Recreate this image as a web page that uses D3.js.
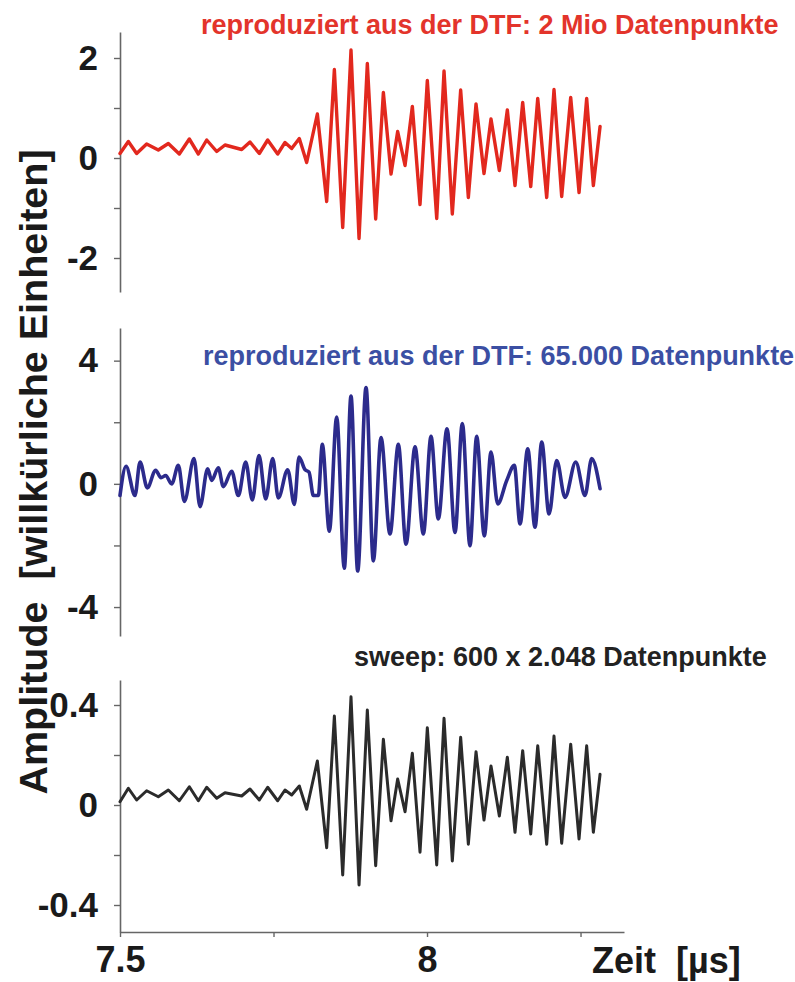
<!DOCTYPE html>
<html><head><meta charset="utf-8">
<script src="https://cdn.jsdelivr.net/npm/d3@7"></script>
<style>
html,body{margin:0;padding:0;background:#fff;}
text{font-family:"Liberation Sans",Arial,sans-serif;font-weight:bold;}
</style></head>
<body>
<svg id="chart" width="795" height="982"></svg>
<script>
// ---------- data (time in µs, amplitude in arbitrary units) ----------
const redTime = [7.5000,7.5136,7.5271,7.5434,7.5624,7.5787,7.5966,7.6129,7.6276,7.6412,7.6575,7.6710,7.6982,7.7117,7.7269,7.7405,7.7568,7.7687,7.7796,7.7920,7.8040,7.8214,7.8366,7.8491,7.8627,7.8762,7.8893,7.9028,7.9164,7.9289,7.9414,7.9522,7.9642,7.9761,7.9886,8.0005,8.0158,8.0277,8.0412,8.0548,8.0673,8.0798,8.0928,8.1042,8.1178,8.1308,8.1433,8.1558,8.1689,8.1803,8.1949,8.2068,8.2193,8.2340,8.2476,8.2600,8.2709,8.2818];
const redValue = [0.09,0.33,0.09,0.28,0.16,0.29,0.08,0.38,0.08,0.36,0.13,0.26,0.17,0.32,0.09,0.36,0.08,0.31,0.19,0.39,-0.09,0.88,-0.87,1.77,-1.39,2.16,-1.61,1.89,-1.22,1.31,-0.32,0.53,-0.15,1.03,-0.93,1.55,-1.21,1.74,-1.12,1.36,-0.79,1.08,-0.31,0.78,-0.25,0.96,-0.55,1.11,-0.57,1.19,-0.79,1.37,-0.77,1.21,-0.69,1.19,-0.55,0.63];

const blueTime = [7.5000,7.5098,7.5244,7.5326,7.5445,7.5581,7.5668,7.5744,7.5842,7.5950,7.6048,7.6205,7.6303,7.6428,7.6493,7.6601,7.6683,7.6819,7.6927,7.7047,7.7155,7.7264,7.7373,7.7487,7.7578,7.7731,7.7839,7.7915,7.8013,7.8078,7.8149,7.8230,7.8295,7.8409,7.8529,7.8653,7.8762,7.8871,7.9007,7.9126,7.9251,7.9397,7.9533,7.9658,7.9805,7.9940,8.0065,8.0184,8.0326,8.0456,8.0575,8.0700,8.0809,8.0933,8.1042,8.1151,8.1298,8.1422,8.1515,8.1640,8.1759,8.1868,8.1987,8.2112,8.2248,8.2422,8.2573,8.2682,8.2818];
const blueValue = [-0.38,0.57,-0.38,0.71,-0.13,0.44,0.20,0.27,0.00,0.60,-0.57,0.82,-0.74,0.49,0.11,0.52,-0.09,0.41,-0.38,0.71,-0.52,0.92,-0.49,0.82,-0.46,0.46,-0.67,0.87,0.46,0.38,-0.38,-0.38,1.28,-1.54,2.17,-2.74,2.85,-2.83,3.13,-2.50,1.50,-1.63,1.28,-1.96,1.20,-1.63,1.54,-1.14,1.79,-1.58,1.96,-2.01,1.54,-1.69,1.03,-0.65,0.11,0.60,-1.30,1.14,-1.41,1.36,-0.98,0.76,-0.44,0.71,-0.38,0.82,-0.16];

const blackTime = redTime;
const blackValue = [0.013,0.067,0.020,0.057,0.033,0.060,0.017,0.073,0.017,0.071,0.027,0.049,0.036,0.064,0.020,0.071,0.017,0.060,0.040,0.076,-0.017,0.176,-0.171,0.356,-0.280,0.433,-0.320,0.380,-0.243,0.263,-0.063,0.104,-0.027,0.207,-0.189,0.309,-0.240,0.347,-0.224,0.271,-0.157,0.213,-0.060,0.156,-0.044,0.191,-0.109,0.217,-0.116,0.237,-0.157,0.276,-0.153,0.243,-0.136,0.237,-0.109,0.123];

const redTicks = [-2,-1,0,1,2];
const redLabels = ["-2","","0","","2"];
const blueTicks = [-4,-2,0,2,4];
const blueLabels = ["-4","","0","","4"];
const blackTicks = [-0.4,-0.2,0,0.2,0.4];
const blackLabels = ["-0.4","","0","","0.4"];
const timeTicks = [7.5,7.75,8,8.25];
const timeLabels = ["7.5","","8",""];

const titles = ["reproduziert aus der DTF: 2 Mio Datenpunkte","reproduziert aus der DTF: 65.000 Datenpunkte","sweep: 600 x 2.048 Datenpunkte"];
const yTitle = "Amplitude  [willkürliche Einheiten]";
const xTitle = "Zeit  [µs]";

// ---------- drawing ----------
const svg = d3.select("#chart");
const x = d3.scaleLinear().domain([7.5, 8.3208]).range([120, 624]);

const panels = [
  {time: redTime, value: redValue, dom: [-2.68, 2.52], rng: [292, 32], ticks: redTicks, labels: redLabels,
   color: "#e2281e", width: 3.4, curve: d3.curveLinear, title: titles[0], tcolor: "#e3342b", tx: 201, ty: 34},
  {time: blueTime, value: blueValue, dom: [-4.94, 5.06], rng: [636, 328], ticks: blueTicks, labels: blueLabels,
   color: "#2c2b8c", width: 3.6, curve: d3.curveMonotoneX, title: titles[1], tcolor: "#3b4fa3", tx: 203, ty: 365},
  {time: blackTime, value: blackValue, dom: [-0.508, 0.5], rng: [932, 680], ticks: blackTicks, labels: blackLabels,
   color: "#2b2b2b", width: 3.0, curve: d3.curveLinear, title: titles[2], tcolor: "#222", tx: 354, ty: 666}
];

panels.forEach(p => {
  const y = d3.scaleLinear().domain(p.dom).range(p.rng);
  const ax = svg.append("g").attr("transform", "translate(120,0)")
    .call(d3.axisLeft(y).tickValues(p.ticks).tickSize(6).tickSizeOuter(0).tickPadding(16)
      .tickFormat((d, i) => p.labels[i]));
  ax.select(".domain").attr("stroke", "#666").attr("stroke-width", 1.6);
  ax.selectAll(".tick line").attr("stroke", "#666").attr("stroke-width", 1.4);
  ax.selectAll(".tick text").attr("fill", "#1a1a1a").style("font-size", "35px")
    .style("font-family", '"Liberation Sans", Arial, sans-serif').style("font-weight", "bold");

  const pts = p.time.map((t, i) => [t, p.value[i]]);
  svg.append("path").datum(pts)
    .attr("fill", "none").attr("stroke", p.color).attr("stroke-width", p.width)
    .attr("stroke-linejoin", "round").attr("stroke-linecap", "round")
    .attr("d", d3.line().x(d => x(d[0])).y(d => y(d[1])).curve(p.curve));

  svg.append("text").attr("x", p.tx).attr("y", p.ty).attr("fill", p.tcolor)
    .style("font-size", "27px").text(p.title);
});

const xa = svg.append("g").attr("transform", "translate(0,932)")
  .call(d3.axisBottom(x).tickValues(timeTicks).tickSize(5).tickSizeOuter(0).tickPadding(9)
    .tickFormat((d, i) => timeLabels[i]));
xa.select(".domain").attr("stroke", "#666").attr("stroke-width", 1.6);
xa.selectAll(".tick line").attr("stroke", "#666").attr("stroke-width", 1.4);
xa.selectAll(".tick text").attr("fill", "#1a1a1a").style("font-size", "36px")
  .style("font-family", '"Liberation Sans", Arial, sans-serif').style("font-weight", "bold");

svg.append("text").attr("x", 592).attr("y", 973).attr("fill", "#1a1a1a")
  .style("font-size", "36px").style("white-space", "pre").text(xTitle);

svg.append("text").attr("transform", "translate(47,472) rotate(-90)")
  .attr("text-anchor", "middle").attr("fill", "#1a1a1a")
  .style("font-size", "39.5px").style("white-space", "pre").text(yTitle);
</script>
</body></html>
